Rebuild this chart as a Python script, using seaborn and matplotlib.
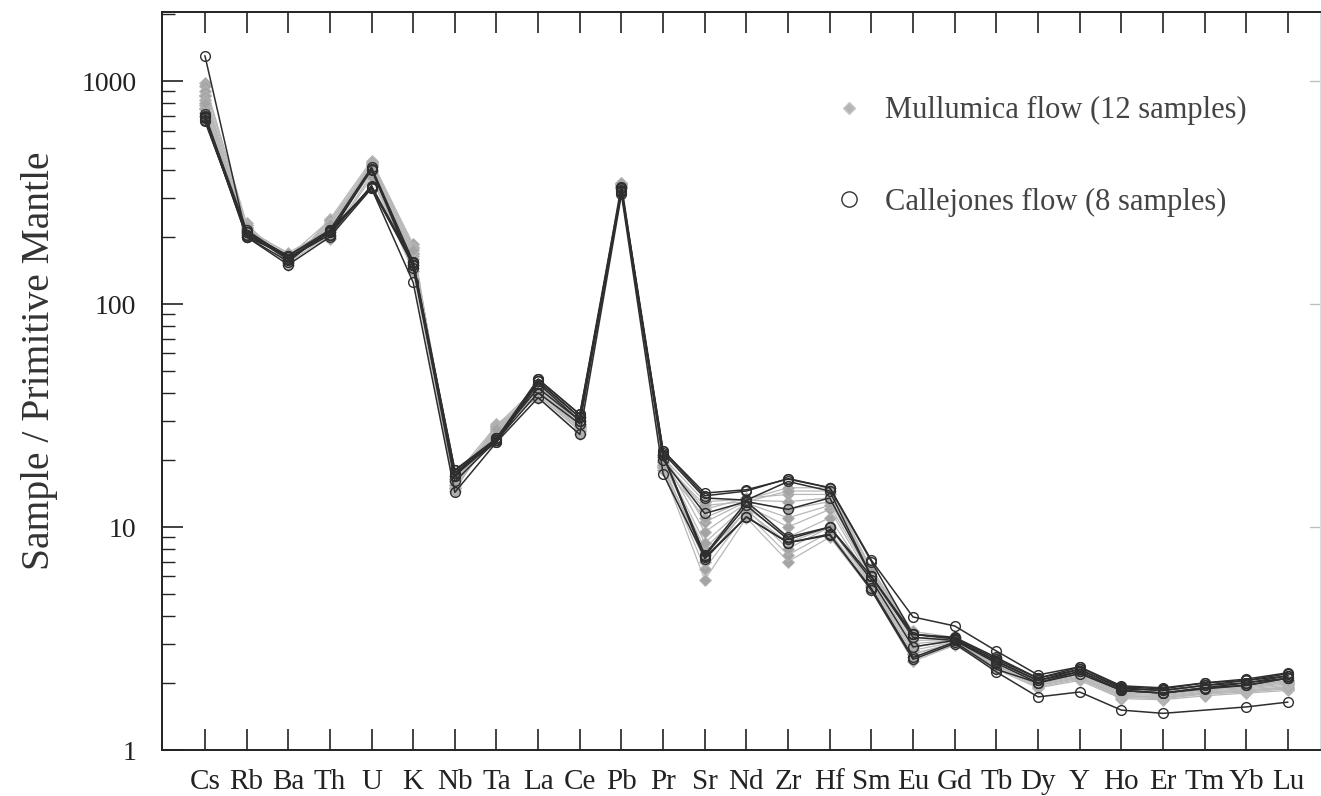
import numpy as np
import pandas as pd
import matplotlib
matplotlib.use("Agg")
import matplotlib.pyplot as plt
from matplotlib.lines import Line2D
from matplotlib.ticker import LogLocator, NullFormatter, FixedLocator
import seaborn as sns

# Elements (primitive-mantle normalised spider diagram)
elements = ["Cs", "Rb", "Ba", "Th", "U", "K", "Nb", "Ta", "La", "Ce", "Pb", "Pr",
            "Sr", "Nd", "Zr", "Hf", "Sm", "Eu", "Gd", "Tb", "Dy", "Y", "Ho", "Er",
            "Tm", "Yb", "Lu"]

# Mullumica flow, 12 samples
mullumica = [
    [980, 230, 150, 240, 440, 185, 14.5, 29, 38, 26, 350, 18, 5.8, 11.0, 7.0, 9.0, 5.2, 2.5, 2.95, 2.30, 1.90, 2.05, 1.70, 1.68, 1.75, 1.80, 1.85],
    [950, 225, 152, 235, 430, 180, 15.0, 28.5, 39, 27, 345, 18.5, 6.5, 11.5, 7.5, 9.5, 5.4, 2.6, 3.00, 2.35, 1.92, 2.08, 1.72, 1.70, 1.78, 1.82, 1.88],
    [900, 220, 155, 230, 420, 170, 15.5, 28, 40, 27.5, 340, 19, 7.0, 12.0, 8.0, 10.0, 5.5, 2.7, 3.00, 2.38, 1.95, 2.10, 1.74, 1.72, 1.80, 1.84, 1.90],
    [860, 215, 158, 225, 410, 165, 16.0, 27.5, 41, 28, 338, 19.5, 8.0, 12.2, 9.0, 11.0, 5.7, 2.8, 3.05, 2.40, 1.96, 2.12, 1.76, 1.73, 1.82, 1.86, 1.92],
    [820, 210, 160, 220, 400, 160, 16.5, 27, 42, 29, 335, 20, 8.5, 12.5, 10.0, 12.0, 5.8, 2.9, 3.08, 2.45, 1.98, 2.15, 1.78, 1.75, 1.84, 1.88, 1.95],
    [780, 205, 162, 210, 390, 150, 17.0, 26.5, 43, 30, 332, 20.5, 9.5, 12.8, 11.0, 12.5, 6.0, 3.0, 3.10, 2.50, 2.00, 2.18, 1.80, 1.77, 1.86, 1.90, 1.98],
    [750, 200, 165, 200, 380, 145, 16.0, 26, 44, 31, 330, 21, 10.5, 13.0, 12.0, 13.0, 6.2, 3.1, 3.12, 2.52, 2.02, 2.20, 1.82, 1.79, 1.88, 1.92, 2.00],
    [720, 218, 168, 195, 370, 140, 15.0, 27, 40, 28, 342, 19, 11.0, 13.2, 13.0, 13.5, 6.3, 3.2, 3.15, 2.55, 2.04, 2.22, 1.83, 1.80, 1.90, 1.93, 2.02],
    [700, 212, 170, 215, 425, 175, 16.5, 28, 42, 29, 348, 20, 12.0, 13.5, 14.0, 14.0, 6.4, 3.3, 3.18, 2.58, 2.05, 2.24, 1.84, 1.81, 1.92, 1.94, 2.03],
    [800, 222, 157, 228, 415, 155, 15.5, 27.5, 41, 28.5, 336, 19.5, 12.5, 13.0, 14.5, 14.5, 6.5, 3.4, 3.20, 2.60, 2.05, 2.25, 1.85, 1.82, 1.94, 1.95, 2.05],
    [870, 208, 163, 238, 395, 168, 17.0, 28.5, 43, 30, 344, 20.5, 13.0, 13.3, 15.0, 15.0, 6.5, 3.3, 3.15, 2.55, 2.03, 2.22, 1.84, 1.80, 1.92, 1.94, 2.04],
    [760, 226, 153, 205, 435, 178, 15.0, 26.5, 39, 27, 340, 18.5, 7.5, 11.8, 8.5, 10.0, 5.6, 2.7, 3.02, 2.40, 1.95, 2.12, 1.75, 1.72, 1.80, 1.85, 1.90],
]

# Callejones flow, 8 samples (one sample has no Tm)
callejones = [
    [1300, 200, 150, 200, 330, 125, 14.3, 24, 38, 26, 310, 17.3, 7.3, 11.1, 8.5, 9.3, 5.2, 2.55, 3.00, 2.24, 1.73, 1.82, 1.51, 1.46, np.nan, 1.56, 1.64],
    [680, 210, 165, 215, 410, 155, 18.0, 25, 46, 32, 335, 22, 14.2, 14.7, 16.4, 15.0, 7.1, 3.95, 3.60, 2.78, 2.17, 2.36, 1.94, 1.90, 2.00, 2.08, 2.22],
    [670, 205, 160, 210, 330, 150, 17.0, 24.5, 45, 31, 320, 21.5, 13.5, 13.2, 16.0, 14.5, 6.0, 3.30, 3.18, 2.55, 2.10, 2.30, 1.90, 1.85, 1.95, 2.05, 2.15],
    [700, 215, 160, 205, 340, 150, 17.5, 24, 44, 30, 325, 21, 7.5, 13.0, 9.0, 10.0, 6.0, 3.20, 3.10, 2.50, 2.05, 2.30, 1.88, 1.85, 1.95, 2.00, 2.15],
    [690, 200, 165, 210, 400, 145, 17.0, 25, 42, 30, 330, 21, 7.2, 11.1, 8.5, 9.2, 5.3, 2.60, 3.05, 2.30, 2.00, 2.25, 1.85, 1.80, 1.90, 2.00, 2.10],
    [660, 210, 158, 212, 335, 155, 18.0, 24.5, 46, 32, 318, 22, 13.8, 14.5, 16.5, 15.0, 7.0, 3.30, 3.20, 2.60, 2.10, 2.35, 1.92, 1.88, 2.00, 2.05, 2.20],
    [710, 205, 162, 205, 405, 150, 16.0, 24.5, 40, 29, 330, 20, 11.5, 13.0, 12.0, 13.5, 6.0, 3.30, 3.15, 2.50, 2.05, 2.25, 1.85, 1.80, 1.90, 1.95, 2.10],
    [690, 200, 155, 215, 330, 152, 17.5, 25, 45, 31, 322, 21, 7.4, 12.5, 8.8, 10.0, 5.8, 2.90, 3.10, 2.45, 2.00, 2.20, 1.85, 1.80, 1.88, 1.95, 2.10],
]


def to_long(samples, prefix):
    rows = []
    for i, vals in enumerate(samples):
        for j, v in enumerate(vals):
            rows.append({"sample": f"{prefix}{i}", "pos": j, "value": v})
    return pd.DataFrame(rows).dropna()


df_m = to_long(mullumica, "M")
df_c = to_long(callejones, "C")

sns.set_theme(style="white")
plt.rcParams["font.family"] = ["Liberation Serif", "DejaVu Serif"]

fig = plt.figure(figsize=(13.21, 7.96), dpi=100)
ax = fig.add_axes([162 / 1321, 46 / 796, (1320 - 162) / 1321, (784 - 46) / 796])

sns.lineplot(data=df_m, x="pos", y="value", units="sample", estimator=None,
             color="#b8b8b8", lw=0.9, marker="D", markersize=6,
             markerfacecolor="#a4a4a4", markeredgecolor="#b8b8b8",
             markeredgewidth=0.6, ax=ax, legend=False)
sns.lineplot(data=df_c, x="pos", y="value", units="sample", estimator=None,
             color="#2e2e2e", lw=1.1, marker="o", markersize=7,
             markerfacecolor="none", markeredgecolor="#2e2e2e",
             markeredgewidth=1.0, ax=ax, legend=False)

ax.set_yscale("log")
ax.set_ylim(1, 2040)
ax.set_xlim(-1.03, 26.77)

ax.xaxis.set_major_locator(FixedLocator(range(len(elements))))
ax.set_xticklabels(elements, fontsize=21, color="#222222")
ax.set_yticks([1, 10, 100, 1000])
ax.set_yticklabels(["1", "10", "100", "1000"], fontsize=20, color="#222222")
ax.yaxis.set_minor_locator(LogLocator(base=10, subs=np.arange(2, 10)))
ax.yaxis.set_minor_formatter(NullFormatter())

ax.tick_params(axis="x", which="major", direction="in", length=15, width=1.2,
               top=True, bottom=True, pad=14, color="#222222")
ax.tick_params(axis="y", which="major", direction="in", length=15, width=1.2,
               left=True, right=False, pad=18.5, color="#222222")
ax.tick_params(axis="y", which="minor", direction="in", length=9, width=1.0,
               left=True, right=False, color="#222222")

# faint ticks on the right edge
for v in [10, 100, 1000]:
    ax.plot([26.77 - 0.25, 26.77], [v, v], color="#c0c0c0", lw=1, clip_on=False)
for spine in ["left", "bottom", "top"]:
    ax.spines[spine].set_color("#222222")
    ax.spines[spine].set_linewidth(1.4)
ax.spines["right"].set_color("#dddddd")
ax.spines["right"].set_linewidth(0.8)

ax.set_xlabel("")
ax.set_ylabel("Sample / Primitive Mantle", fontsize=28.5, color="#333333")
ax.yaxis.set_label_coords(-0.090, 0.528)

handles = [
    Line2D([], [], ls="none", marker="D", markersize=6, markerfacecolor="#b5b5b5",
           markeredgecolor="#c8c8c8"),
    Line2D([], [], ls="none", marker="o", markersize=11, markerfacecolor="none",
           markeredgecolor="#333333", markeredgewidth=1.0),
]
leg = ax.legend(handles, ["Mullumica flow (12 samples)", "Callejones flow (8 samples)"],
                loc="upper left", bbox_to_anchor=(0.556, 0.923), frameon=False,
                fontsize=22, labelspacing=2.05, handlelength=1.0, handletextpad=0.7)
for t in leg.get_texts():
    t.set_color("#444444")

fig.savefig("out.png", dpi=100)
